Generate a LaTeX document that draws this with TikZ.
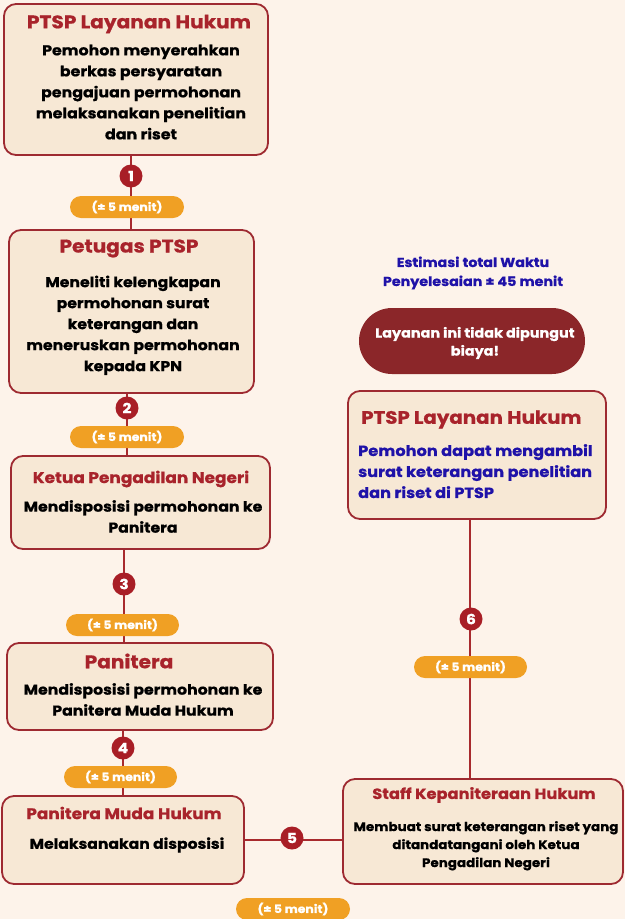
\documentclass[tikz,border=0pt]{standalone}
\usepackage{fontspec}
\setmainfont{Poppins}[FakeStretch=1.1, BoldFont={Poppins Bold}, BoldFeatures={FakeStretch=1.1, FakeBold=0.8}]
\definecolor{bg}{HTML}{FDF3EA}
\definecolor{boxfill}{HTML}{F7E8D5}
\definecolor{brd}{HTML}{9E2A31}
\definecolor{ttl}{HTML}{A8232B}
\definecolor{numred}{HTML}{A81E26}
\definecolor{pillor}{HTML}{F0A024}
\definecolor{darkpill}{HTML}{8B2629}
\definecolor{blu}{HTML}{1F12A8}
\definecolor{lin}{HTML}{A82A2E}
\newcommand{\fs}[2]{\fontsize{#1}{#2}\selectfont}
\tikzset{
  box/.style={draw=brd, line width=1.8pt, fill=boxfill, rounded corners=12pt, inner sep=0pt},
  num/.style={circle, fill=numred, text=white, minimum size=23pt, inner sep=0pt, font=\bfseries\fs{14}{14}},
  pill/.style={fill=pillor, rounded corners=11pt, minimum width=114pt, minimum height=22pt, inner sep=0pt, text=white, font=\bfseries\fs{11.3}{12}},
  ttl/.style={text=ttl, inner sep=0pt, font=\bfseries\fs{18.3}{20}},
  body/.style={align=center, inner sep=0pt, text=black, font=\bfseries\fs{14.3}{21}},
  conn/.style={draw=lin, line width=1.8pt},
}
\begin{document}
\begin{tikzpicture}[x=1pt,y=-1pt]
\fill[bg] (0,0) rectangle (625,919);
\useasboundingbox (0,0) rectangle (625,919);
% boxes
\node[box, minimum width=264pt, minimum height=151pt] (b1) at (136,79.5) {};
\node[box, minimum width=245pt, minimum height=163pt] (b2) at (131.5,311.5) {};
\node[box, minimum width=259pt, minimum height=93pt] (b3) at (140.5,502.5) {};
\node[box, minimum width=266pt, minimum height=87pt] (b4) at (140,686.5) {};
\node[box, minimum width=242pt, minimum height=88pt] (b5) at (123,840) {};
\node[box, minimum width=280pt, minimum height=105pt] (b6) at (483,831.5) {};
\node[box, minimum width=258pt, minimum height=128pt] (b7) at (477,455) {};
% connectors
\coordinate (k1) at (131,0);
\coordinate (k2) at (127,0);
\coordinate (k3) at (124,0);
\coordinate (k4) at (123,0);
\coordinate (k6) at (470,0);
\draw[conn] (k1 |- b1.south) -- (k1 |- b2.north);
\draw[conn] (k2 |- b2.south) -- (k2 |- b3.north);
\draw[conn] (k3 |- b3.south) -- (k3 |- b4.north);
\draw[conn] (k4 |- b4.south) -- (k4 |- b5.north);
\draw[conn] (b5.east |- 0,840) -- (b6.west |- 0,840);
\draw[conn] (k6 |- b6.north) -- (k6 |- b7.south);
% numbers and pills
\node[num] (n1) at (131,176) {1};
\node[pill] (p1) at (127,207) {(± 5 menit)};
\node[num] (n2) at (127,408) {2};
\node[pill] (p2) at (127,437) {(± 5 menit)};
\node[num] (n3) at (124,584) {3};
\node[pill, minimum width=113pt] (p3) at (122.5,625) {(± 5 menit)};
\node[num] (n4) at (123,748) {4};
\node[pill, minimum width=113pt] (p4) at (120.5,777) {(± 5 menit)};
\node[num] (n5) at (292,838) {5};
\node[pill] (p5) at (293,909) {(± 5 menit)};
\node[num] (n6) at (471,619) {6};
\node[pill, minimum width=113pt] (p6) at (470.5,667) {(± 5 menit)};
% box texts
\node[ttl] (t1) at (139,24) {PTSP Layanan Hukum};
\node[body, font=\bfseries\fs{14.4}{21}, anchor=north] (d1) at (141,44.5) {Pemohon menyerahkan\\berkas persyaratan\\pengajuan permohonan\\melaksanakan penelitian\\dan riset};
\node[ttl] (t2) at (129,248.5) {Petugas PTSP};
\node[body, anchor=north] (d2) at (133,275.5) {Meneliti kelengkapan\\permohonan surat\\keterangan dan\\meneruskan permohonan\\kepada KPN};
\node[ttl, font=\bfseries\fs{15.4}{18}] (t3) at (141,479) {Ketua Pengadilan Negeri};
\node[body, anchor=north] (d3) at (143,500) {Mendisposisi permohonan ke\\Panitera};
\node[ttl] (t4) at (129,661) {Panitera};
\node[body, anchor=north] (d4) at (143,683) {Mendisposisi permohonan ke\\Panitera Muda Hukum};
\node[ttl, font=\bfseries\fs{15.4}{18}] (t5) at (124,813) {Panitera Muda Hukum};
\node[body, font=\bfseries\fs{14.2}{21}] (d5) at (127,845) {Melaksanakan disposisi};
\node[ttl, font=\bfseries\fs{14.8}{18}] (t6) at (484,795) {Staff Kepaniteraan Hukum};
\node[body, font=\bfseries\fs{12.25}{18}, anchor=north] (d6) at (486,821) {Membuat surat keterangan riset yang\\ditandatangani oleh Ketua\\Pengadilan Negeri};
\node[ttl, font=\bfseries\fs{18}{20}, anchor=west] (t7) at (361,419.5) {PTSP Layanan Hukum};
\node[body, font=\bfseries\fs{14.7}{21}, align=left, text=blu, anchor=north west] (d7) at (358,444) {Pemohon dapat mengambil\\surat keterangan penelitian\\dan riset di PTSP};
% side notes
\node[align=center, text=blu, inner sep=0pt, font=\bfseries\fs{13}{19}] (est) at (473,273) {Estimasi total Waktu\\Penyelesaian ± 45 menit};
\node[fill=darkpill, rounded corners=33pt, minimum width=226pt, minimum height=66pt, inner sep=0pt] (free) at (472,341) {};
\node[align=center, text=white, inner sep=0pt, font=\bfseries\fs{13.1}{18}] (freet) at (475,343) {Layanan ini tidak dipungut\\biaya!};
\end{tikzpicture}
\end{document}
